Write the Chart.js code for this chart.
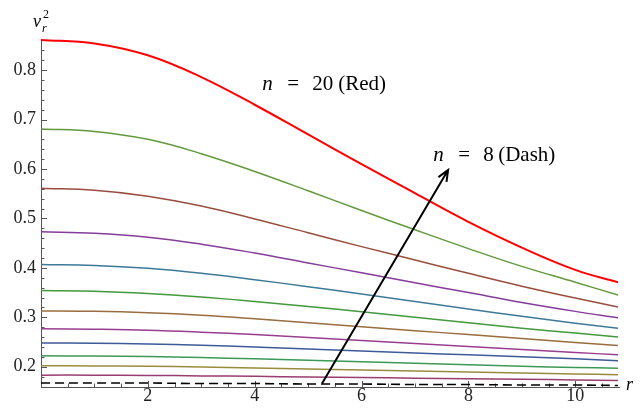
<!DOCTYPE html>
<html>
<head>
<meta charset="utf-8">
<script src="https://cdn.jsdelivr.net/npm/chart.js@4"></script>
<style>
  html, body { margin: 0; padding: 0; background: #fff; }
  #wrap { width: 640px; height: 410px; }
</style>
</head>
<body>
<div id="wrap"><canvas id="vChart" width="640" height="410"></canvas></div>
<script>
// radial coordinate r
const rPoints = [0, 1, 2, 3, 4, 5, 6, 7, 8, 9, 10, 10.8];

// v_r^2 for n = 8 ... 20
const vN8  = [0.167, 0.167, 0.167, 0.166, 0.166, 0.165, 0.165, 0.164, 0.164, 0.163, 0.163, 0.162];
const vN9  = [0.183, 0.183, 0.1825, 0.1815, 0.1805, 0.1793, 0.1781, 0.1769, 0.1757, 0.1745, 0.1733, 0.172];
const vN10 = [0.202, 0.2017, 0.201, 0.1995, 0.1975, 0.1955, 0.1935, 0.1915, 0.1895, 0.1875, 0.1855, 0.184];
const vN11 = [0.222, 0.2215, 0.2205, 0.2185, 0.216, 0.213, 0.210, 0.207, 0.204, 0.201, 0.1985, 0.197];
const vN12 = [0.248, 0.2475, 0.246, 0.2435, 0.240, 0.236, 0.232, 0.228, 0.224, 0.220, 0.216, 0.212];
const vN13 = [0.277, 0.276, 0.274, 0.270, 0.265, 0.259, 0.253, 0.247, 0.241, 0.235, 0.229, 0.224];
const vN14 = [0.313, 0.312, 0.309, 0.304, 0.297, 0.289, 0.281, 0.273, 0.265, 0.257, 0.249, 0.243];
const vN15 = [0.354, 0.3525, 0.348, 0.341, 0.332, 0.322, 0.311, 0.300, 0.289, 0.278, 0.268, 0.260];
const vN16 = [0.407, 0.405, 0.399, 0.389, 0.376, 0.362, 0.347, 0.332, 0.317, 0.302, 0.288, 0.278];
const vN17 = [0.473, 0.470, 0.462, 0.448, 0.430, 0.410, 0.390, 0.370, 0.350, 0.330, 0.312, 0.299];
const vN18 = [0.561, 0.557, 0.545, 0.525, 0.499, 0.471, 0.443, 0.416, 0.389, 0.363, 0.339, 0.321];
const vN19 = [0.681, 0.676, 0.660, 0.631, 0.595, 0.556, 0.516, 0.477, 0.439, 0.403, 0.371, 0.345];
const vN20 = [0.861, 0.854, 0.830, 0.786, 0.730, 0.670, 0.610, 0.551, 0.493, 0.441, 0.396, 0.371];

const series = [vN8, vN9, vN10, vN11, vN12, vN13, vN14, vN15, vN16, vN17, vN18, vN19, vN20];
const lineColors = ['#000000', '#993d71', '#998b3d', '#3d9956', '#3d5a99', '#993d90',
                    '#996d3d', '#43993d', '#3d7999', '#843d99', '#994e3d', '#62993d', '#ff0000'];

// axes
const xRange = [0, 10.8];
const yRange = [0.159, 0.863];
const xTicks = [2, 4, 6, 8, 10];
const yTicks = [0.2, 0.3, 0.4, 0.5, 0.6, 0.7, 0.8];

// annotations (data coordinates)
const arrowFrom = [5.26, 0.166];
const arrowTo = [7.62, 0.598];
const label20At = [4.14, 0.760];
const label8At = [7.34, 0.616];

const serif = "'Liberation Serif', 'Times New Roman', serif";

const datasets = series.map((vals, i) => ({
    data: vals.map((v, k) => ({ x: rPoints[k], y: v })),
    borderColor: lineColors[i],
    borderWidth: i === 12 ? 2 : (i === 0 ? 1.6 : 1.5),
    borderDash: i === 0 ? [9, 5] : [],
    pointRadius: 0,
    fill: false,
    tension: 0.4
}));

const overlay = {
    id: 'overlay',
    beforeDatasetsDraw(chart) {
        const { ctx, chartArea: a, scales: { x, y } } = chart;
        ctx.save();
        ctx.strokeStyle = '#555';
        ctx.lineWidth = 1;
        ctx.beginPath();
        ctx.moveTo(a.left + 0.5, a.top);
        ctx.lineTo(a.left + 0.5, a.bottom + 0.5);
        ctx.lineTo(a.right + 2, a.bottom + 0.5);
        // y ticks (major every 0.1, minor every 0.02)
        for (let k = 8; k <= 43; k++) {
            const v = k * 0.02;
            if (v < yRange[0] || v > yRange[1]) continue;
            const py = Math.round(y.getPixelForValue(v)) + 0.5;
            const len = (k % 5 === 0) ? 6 : 3.5;
            ctx.moveTo(a.left, py);
            ctx.lineTo(a.left + len, py);
        }
        // x ticks (major every 2, minor every 0.5)
        for (let k = 1; k <= 21; k++) {
            const v = k * 0.5;
            const px = Math.round(x.getPixelForValue(v)) + 0.5;
            const len = (k % 4 === 0) ? 6 : 3.5;
            ctx.moveTo(px, a.bottom);
            ctx.lineTo(px, a.bottom - len);
        }
        ctx.stroke();
        ctx.restore();
    },
    afterDatasetsDraw(chart) {
        const { ctx, scales: { x, y } } = chart;
        ctx.save();
        // arrow
        const x1 = x.getPixelForValue(arrowFrom[0]), y1 = y.getPixelForValue(arrowFrom[1]);
        const x2 = x.getPixelForValue(arrowTo[0]), y2 = y.getPixelForValue(arrowTo[1]);
        const ang = Math.atan2(y2 - y1, x2 - x1);
        ctx.strokeStyle = '#000';
        ctx.lineWidth = 2;
        ctx.beginPath();
        ctx.moveTo(x1, y1);
        ctx.lineTo(x2, y2);
        ctx.moveTo(x2 - 12 * Math.cos(ang - 0.4), y2 - 12 * Math.sin(ang - 0.4));
        ctx.lineTo(x2, y2);
        ctx.lineTo(x2 - 12 * Math.cos(ang + 0.4), y2 - 12 * Math.sin(ang + 0.4));
        ctx.stroke();

        // labels
        ctx.fillStyle = '#000';
        ctx.textBaseline = 'alphabetic';
        const note = (at, num, numOff, tail, tailOff) => {
            const px = x.getPixelForValue(at[0]), py = y.getPixelForValue(at[1]);
            ctx.font = 'italic 21px ' + serif;
            ctx.fillText('n', px, py);
            ctx.font = '21px ' + serif;
            ctx.fillText('=', px + 25, py);
            ctx.fillText(num, px + numOff, py);
            ctx.fillText(tail, px + tailOff, py);
        };
        note(label20At, '20', 50, '(Red)', 76);
        note(label8At, '8', 50, '(Dash)', 65);

        // axis names
        const a = chart.chartArea;
        ctx.font = 'italic 18px ' + serif;
        ctx.fillText('v', a.left - 8, 27);
        ctx.font = 'italic 12px ' + serif;
        ctx.fillText('r', a.left + 1, 32);
        ctx.font = '12px ' + serif;
        ctx.fillText('2', a.left + 2, 18);
        ctx.font = 'italic 18px ' + serif;
        ctx.fillText('r', a.right + 8, a.bottom + 3);
        ctx.restore();
    }
};

new Chart(document.getElementById('vChart').getContext('2d'), {
    type: 'line',
    data: { datasets: datasets },
    options: {
        responsive: false,
        animation: false,
        layout: { padding: { top: 39, right: 22, left: 0, bottom: 0 } },
        plugins: { legend: { display: false }, tooltip: { enabled: false } },
        scales: {
            x: {
                type: 'linear',
                min: xRange[0],
                max: xRange[1],
                grid: { display: false, drawTicks: false },
                border: { display: false },
                afterBuildTicks: s => { s.ticks = xTicks.map(v => ({ value: v })); },
                afterFit: s => { s.height = 23; },
                ticks: {
                    padding: -2,
                    color: '#222',
                    font: { family: serif, size: 18 },
                    maxRotation: 0,
                    callback: v => String(v)
                }
            },
            y: {
                min: yRange[0],
                max: yRange[1],
                grid: { display: false, drawTicks: false },
                border: { display: false },
                afterBuildTicks: s => { s.ticks = yTicks.map(v => ({ value: v })); },
                afterFit: s => { s.width = 41; },
                ticks: {
                    padding: 5,
                    color: '#222',
                    font: { family: serif, size: 18 },
                    callback: v => v.toFixed(1)
                }
            }
        }
    },
    plugins: [overlay]
});
</script>
</body>
</html>
